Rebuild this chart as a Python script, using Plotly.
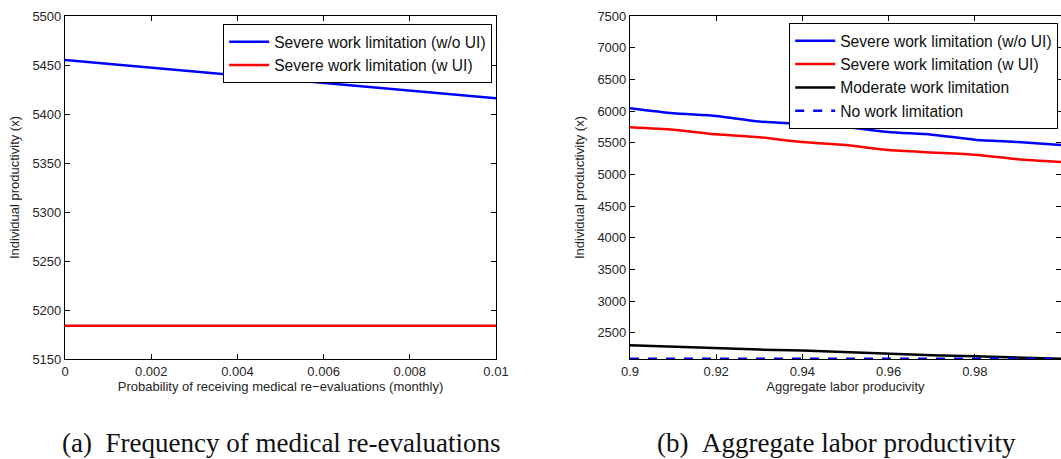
import plotly.graph_objects as go

# Panel (a)
a_x = [0.0, 0.01]
a_severe_wo_ui = [5455, 5416]
a_severe_w_ui = [5184, 5184]

# Panel (b)
b_x = [0.90, 0.91, 0.92, 0.93, 0.94, 0.95, 0.96, 0.97, 0.98, 0.99, 1.00]
b_severe_wo_ui = [6044, 5965, 5923, 5834, 5796, 5749, 5670, 5628, 5549, 5511, 5464]
b_severe_w_ui = [5745, 5707, 5633, 5586, 5511, 5464, 5385, 5348, 5312, 5238, 5195]
b_moderate = [2303, 2278, 2252, 2236, 2221, 2195, 2173, 2148, 2131, 2108, 2090]
b_none = [2090, 2090, 2090, 2090, 2090, 2090, 2090, 2090, 2090, 2090, 2090]

W, H = 1061, 459
FONT = "Liberation Sans, Arial, sans-serif"
TXT = "#262626"

fig = go.Figure()
fig.add_trace(go.Scatter(x=a_x, y=a_severe_wo_ui, mode="lines", name="Severe work limitation (w/o UI)",
                         line=dict(color="#0000ff", width=2.5), xaxis="x", yaxis="y", legend="legend"))
fig.add_trace(go.Scatter(x=a_x, y=a_severe_w_ui, mode="lines", name="Severe work limitation (w UI)",
                         line=dict(color="#ff0000", width=2.5), xaxis="x", yaxis="y", legend="legend"))

fig.add_trace(go.Scatter(x=b_x, y=b_severe_wo_ui, mode="lines", name="Severe work limitation (w/o UI)",
                         line=dict(color="#0000ff", width=2.5, shape="spline", smoothing=0.6),
                         xaxis="x2", yaxis="y2", legend="legend2"))
fig.add_trace(go.Scatter(x=b_x, y=b_severe_w_ui, mode="lines", name="Severe work limitation (w UI)",
                         line=dict(color="#ff0000", width=2.5, shape="spline", smoothing=0.6),
                         xaxis="x2", yaxis="y2", legend="legend2"))
fig.add_trace(go.Scatter(x=b_x, y=b_moderate, mode="lines", name="Moderate work limitation",
                         line=dict(color="#000000", width=2.5), xaxis="x2", yaxis="y2", legend="legend2"))
fig.add_trace(go.Scatter(x=b_x, y=b_none, mode="lines", name="No work limitation",
                         line=dict(color="#0000ff", width=2.5, dash="dash"), xaxis="x2", yaxis="y2",
                         legend="legend2", cliponaxis=False))

def px_x(p):
    return p / W

def px_y(p):
    return 1 - p / H

axis_common = dict(showline=True, linecolor="black", linewidth=1.2, mirror="ticks", ticks="inside",
                   ticklen=5, tickcolor="black", showgrid=False, zeroline=False, automargin=False,
                   tickfont=dict(family=FONT, size=13, color=TXT))
title_font = dict(family=FONT, size=13, color=TXT)

fig.update_layout(
    width=W, height=H, margin=dict(l=0, r=0, t=0, b=0, autoexpand=False),
    paper_bgcolor="white", plot_bgcolor="white",
    font=dict(family=FONT, color=TXT),
    xaxis=dict(domain=[px_x(65), px_x(496)], range=[0, 0.01], tickvals=[0, 0.002, 0.004, 0.006, 0.008, 0.01],
               ticktext=["0", "0.002", "0.004", "0.006", "0.008", "0.01"], anchor="y",
               title=dict(text="Probability of receiving medical re\u2212evaluations (monthly)",
                          font=title_font, standoff=3), **axis_common),
    yaxis=dict(domain=[px_y(359), px_y(16)], range=[5150, 5500], dtick=50, anchor="x",
               title=dict(text="Individual productivity (x)", font=title_font, standoff=9), **axis_common),
    xaxis2=dict(domain=[px_x(630), 1.0], range=[0.9, 1.0], tickvals=[0.9, 0.92, 0.94, 0.96, 0.98],
                ticktext=["0.9", "0.92", "0.94", "0.96", "0.98"], anchor="y2",
                title=dict(text="Aggregate labor producivity", font=title_font, standoff=3), **axis_common),
    yaxis2=dict(domain=[px_y(359), px_y(16)], range=[2088, 7500], tickvals=list(range(2500, 7501, 500)),
                anchor="x2",
                title=dict(text="Individual productivity (x)", font=title_font, standoff=9), **axis_common),
    legend=dict(x=px_x(492), y=px_y(24), xanchor="right", yanchor="top", bgcolor="white",
                bordercolor="black", borderwidth=1.2, font=dict(family=FONT, size=15.6, color="#111"),
                itemwidth=40, tracegroupgap=0),
    legend2=dict(x=px_x(1058), y=px_y(23), xanchor="right", yanchor="top", bgcolor="white",
                 bordercolor="black", borderwidth=1.2, font=dict(family=FONT, size=15.6, color="#111"),
                 itemwidth=40, tracegroupgap=0),
    showlegend=True,
)

CAP = dict(family="Liberation Serif, Times New Roman, serif", size=27, color="#111")
fig.add_annotation(text="(a)\u2002Frequency of medical re-evaluations", xref="paper", yref="paper",
                   x=px_x(281), y=px_y(443), xanchor="center", yanchor="middle", showarrow=False, font=CAP)
fig.add_annotation(text="(b)\u2002Aggregate labor productivity", xref="paper", yref="paper",
                   x=px_x(836), y=px_y(443), xanchor="center", yanchor="middle", showarrow=False, font=CAP)

fig.write_html("out.html")
